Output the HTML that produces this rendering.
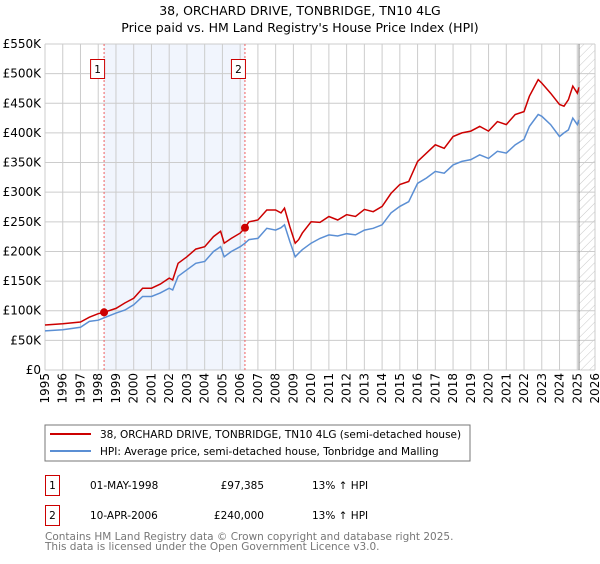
<!DOCTYPE html>
<html><head><meta charset="utf-8"><style>
body{margin:0;background:#fff;font-family:"DejaVu Sans","Liberation Sans",sans-serif;}
svg text{font-family:"DejaVu Sans","Liberation Sans",sans-serif;}
</style></head><body>
<svg id="chart" width="600" height="560" viewBox="0 0 600 560">
<defs><pattern id="hatch" width="6" height="6" patternUnits="userSpaceOnUse" patternTransform="rotate(45)"><line x1="0" y1="0" x2="0" y2="6" stroke="#bbb" stroke-width="0.8"/></pattern></defs>
<text x="300" y="15" text-anchor="middle" font-size="12.5">38, ORCHARD DRIVE, TONBRIDGE, TN10 4LG</text>
<text x="300" y="32" text-anchor="middle" font-size="12.5">Price paid vs. HM Land Registry's House Price Index (HPI)</text>
<g id="plot"></g>
<rect x="45" y="425" width="425" height="36" fill="#fff" stroke="#777"/>
<line x1="50" y1="434" x2="91" y2="434" stroke="#cc0000" stroke-width="2"/>
<text x="100" y="438" font-size="10.5">38, ORCHARD DRIVE, TONBRIDGE, TN10 4LG (semi-detached house)</text>
<line x1="50" y1="451" x2="91" y2="451" stroke="#5b8fd4" stroke-width="2"/>
<text x="100" y="455" font-size="10.5">HPI: Average price, semi-detached house, Tonbridge and Malling</text>
<g>
<rect x="45.5" y="475.5" width="14" height="20" fill="#fff" stroke="#cc0000"/>
<text x="52.5" y="489" text-anchor="middle" font-size="10.5">1</text>
<text x="90" y="489" font-size="10.5">01-MAY-1998</text>
<text x="264" y="489" text-anchor="end" font-size="10.5">£97,385</text>
<text x="312" y="489" font-size="10.5">13% ↑ HPI</text></g>
<g>
<rect x="45.5" y="505.5" width="14" height="20" fill="#fff" stroke="#cc0000"/>
<text x="52.5" y="519" text-anchor="middle" font-size="10.5">2</text>
<text x="90" y="519" font-size="10.5">10-APR-2006</text>
<text x="264" y="519" text-anchor="end" font-size="10.5">£240,000</text>
<text x="312" y="519" font-size="10.5">13% ↑ HPI</text></g>
<text x="45" y="540" font-size="10.5" fill="#777">Contains HM Land Registry data © Crown copyright and database right 2025.</text>
<text x="45" y="550" font-size="10.5" fill="#777">This data is licensed under the Open Government Licence v3.0.</text>
</svg>
<script>
const dates=[1995,1996,1997,1997.5,1998,1998.33,1999,1999.5,2000,2000.5,2001,2001.5,2002,2002.2,2002.5,2003,2003.5,2004,2004.5,2004.9,2005.1,2005.5,2006,2006.27,2006.5,2007,2007.5,2008,2008.3,2008.5,2008.8,2009.1,2009.3,2009.5,2010,2010.5,2011,2011.5,2012,2012.5,2013,2013.5,2014,2014.5,2015,2015.5,2016,2016.5,2017,2017.5,2018,2018.5,2019,2019.5,2020,2020.5,2021,2021.5,2022,2022.3,2022.8,2023,2023.5,2024,2024.25,2024.5,2024.75,2025,2025.1];
const priceSeries=[76,78,81,89,95,97.4,104,113,121,138,138,145,155,152,180,191,204,208,225,234,214,222,231,240,250,253,270,270,265,273,242,214,220,231,250,249,259,253,262,259,271,267,276,298,313,318,352,366,380,374,394,400,403,411,403,419,414,431,436,462,490,484,467,448,445,456,479,467,477];
const hpiSeries=[66,68,72,82,84,88,96,101,110,124,124,130,138,135,158,169,180,183,200,208,191,200,208,214,220,222,239,236,240,245,217,191,197,203,214,222,228,226,230,228,236,239,245,265,276,284,315,324,335,332,346,352,355,363,357,369,366,380,389,411,431,428,414,394,400,405,425,414,422];
const yTicks=[0,50,100,150,200,250,300,350,400,450,500,550];
const yTickLabels=["£0","£50K","£100K","£150K","£200K","£250K","£300K","£350K","£400K","£450K","£500K","£550K"];
const xYears=[1995,1996,1997,1998,1999,2000,2001,2002,2003,2004,2005,2006,2007,2008,2009,2010,2011,2012,2013,2014,2015,2016,2017,2018,2019,2020,2021,2022,2023,2024,2025,2026];
const saleDates=[1998.33,2006.27];
const salePrices=[97.385,240];
const saleLabels=["1","2"];
const L=45,R=595,T=44,B=370;
const xs=y=>L+(y-1995)*(R-L)/31;
const ys=v=>B-v*(B-T)/550;
const NS="http://www.w3.org/2000/svg";
const g=document.getElementById('plot');
function mk(t,a){const e=document.createElementNS(NS,t);for(const k in a)e.setAttribute(k,a[k]);g.appendChild(e);return e;}
let e;
e=mk('rect',{x:xs(saleDates[0]),y:T,width:xs(saleDates[1])-xs(saleDates[0]),height:B-T,fill:'#eef3fc',opacity:0.8});


e=mk('rect',{x:xs(2025.1),y:T,width:R-xs(2025.1),height:B-T,fill:'url(#hatch)'});


yTicks.forEach((v,i)=>{
 e=mk('line',{x1:L,x2:R,y1:ys(v),y2:ys(v),stroke:'#ccc','stroke-width':1});
 
 
 e=mk('text',{x:L-4,y:ys(v)+4,'text-anchor':'end','font-size':12});
 e.textContent=yTickLabels[i];
 
 
});
xYears.forEach(yr=>{
 e=mk('line',{x1:xs(yr),x2:xs(yr),y1:T,y2:B,stroke:'#ccc','stroke-width':1});
 
 
 e=mk('text',{x:0,y:0,'text-anchor':'end','font-size':12,transform:`translate(${xs(yr)+4},${B+3}) rotate(-90)`});
 e.textContent=yr;
 
 
});
e=mk('line',{x1:xs(2025.1),x2:xs(2025.1),y1:T,y2:B,stroke:'#888','stroke-width':1});


saleDates.forEach((d,i)=>{
 e=mk('line',{x1:xs(d),x2:xs(d),y1:T,y2:B,stroke:'#f06060','stroke-dasharray':'2,2','stroke-width':1});
 
 
});
const pts=a=>a.map((v,i)=>xs(dates[i]).toFixed(1)+','+ys(v).toFixed(1)).join(' ');
e=mk('polyline',{points:pts(hpiSeries),fill:'none',stroke:'#5b8fd4','stroke-width':1.5});


e=mk('polyline',{points:pts(priceSeries),fill:'none',stroke:'#cc0000','stroke-width':1.5});


saleDates.forEach((d,i)=>{
 e=mk('circle',{cx:xs(d),cy:ys(salePrices[i]),r:4,fill:'#cc0000'});
 
 
 e=mk('rect',{x:xs(d)-13.5,y:59.5,width:14,height:19,fill:'#fff',stroke:'#cc0000'});
 
 
 e=mk('text',{x:xs(d)-6.5,y:73,'text-anchor':'middle','font-size':10.5});
 e.textContent=saleLabels[i];
 
 
});
</script>
</body></html>
